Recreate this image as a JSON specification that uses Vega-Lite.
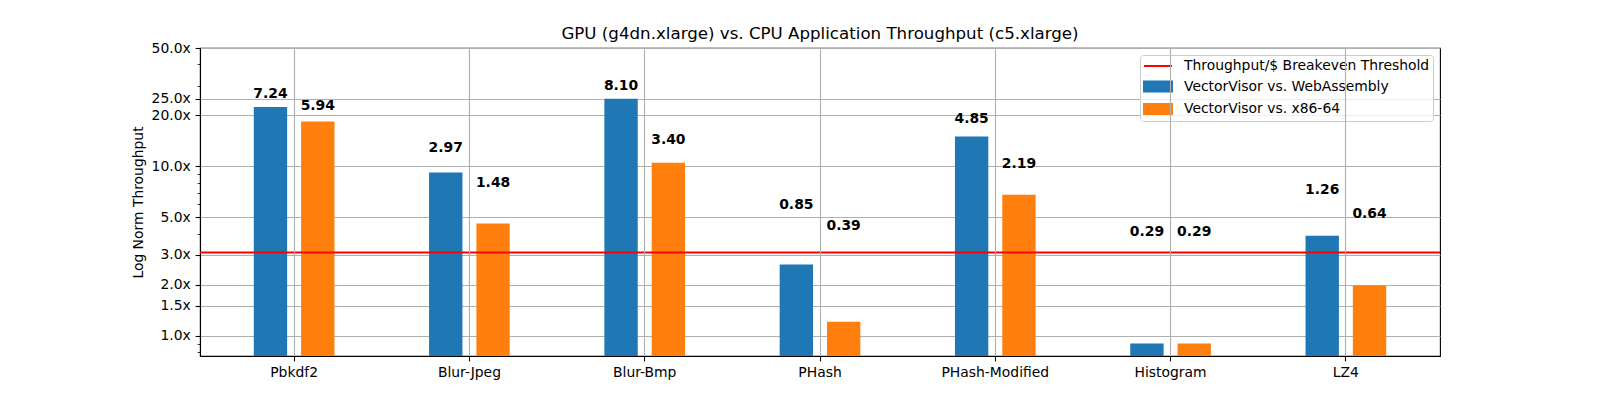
{
  "$schema": "https://vega.github.io/schema/vega-lite/v6.json",
  "width": 1240,
  "height": 308,
  "autosize": {"type": "none"},
  "padding": {"left": 200, "top": 48, "right": 160, "bottom": 44},
  "config": {
    "font": "DejaVu Sans",
    "view": {"stroke": "black", "strokeWidth": 1.1},
    "axis": {
      "labelFont": "DejaVu Sans", "titleFont": "DejaVu Sans",
      "labelColor": "black", "titleColor": "black",
      "domainColor": "black", "tickColor": "black",
      "labelFontSize": 13.9, "titleFontSize": 13.9, "titleFontWeight": "normal",
      "gridColor": "#b0b0b0", "gridWidth": 1.1,
      "domainWidth": 1.1, "tickWidth": 1.1, "tickSize": 4.9, "labelPadding": 4.9
    }
  },
  "title": {
    "text": "GPU (g4dn.xlarge) vs. CPU Application Throughput (c5.xlarge)",
    "fontSize": 16.67, "fontWeight": "normal", "font": "DejaVu Sans", "color": "black",
    "anchor": "middle", "frame": "group", "offset": -2
  },
  "datasets": {
    "bars": [
      {"app": "Pbkdf2", "series": "VectorVisor vs. WebAssembly", "ratio": 7.24, "bar": 22.4},
      {"app": "Pbkdf2", "series": "VectorVisor vs. x86-64", "ratio": 5.94, "bar": 18.4},
      {"app": "Blur-Jpeg", "series": "VectorVisor vs. WebAssembly", "ratio": 2.97, "bar": 9.2},
      {"app": "Blur-Jpeg", "series": "VectorVisor vs. x86-64", "ratio": 1.48, "bar": 4.6},
      {"app": "Blur-Bmp", "series": "VectorVisor vs. WebAssembly", "ratio": 8.10, "bar": 25.1},
      {"app": "Blur-Bmp", "series": "VectorVisor vs. x86-64", "ratio": 3.40, "bar": 10.5},
      {"app": "PHash", "series": "VectorVisor vs. WebAssembly", "ratio": 0.85, "bar": 2.64},
      {"app": "PHash", "series": "VectorVisor vs. x86-64", "ratio": 0.39, "bar": 1.21},
      {"app": "PHash-Modified", "series": "VectorVisor vs. WebAssembly", "ratio": 4.85, "bar": 15.0},
      {"app": "PHash-Modified", "series": "VectorVisor vs. x86-64", "ratio": 2.19, "bar": 6.8},
      {"app": "Histogram", "series": "VectorVisor vs. WebAssembly", "ratio": 0.29, "bar": 0.9},
      {"app": "Histogram", "series": "VectorVisor vs. x86-64", "ratio": 0.29, "bar": 0.9},
      {"app": "LZ4", "series": "VectorVisor vs. WebAssembly", "ratio": 1.26, "bar": 3.9},
      {"app": "LZ4", "series": "VectorVisor vs. x86-64", "ratio": 0.64, "bar": 1.98}
    ],
    "threshold": [
      {"name": "Throughput/$ Breakeven Threshold", "value": 3.1}
    ]
  },
  "layer": [
    {
      "data": {"name": "bars"},
      "mark": {"type": "bar"},
      "encoding": {
        "x": {
          "field": "app", "type": "nominal", "sort": null,
          "scale": {"paddingInner": 0, "paddingOuter": 0.037},
          "axis": {"title": null, "labelAngle": 0, "grid": true, "bandPosition": 0.5, "zindex": 1}
        },
        "xOffset": {
          "field": "series", "type": "nominal",
          "scale": {"paddingInner": 0.295, "paddingOuter": 1.14}
        },
        "y": {
          "field": "bar", "type": "quantitative", "stack": null,
          "scale": {"type": "log", "domain": [0.76, 50], "nice": false},
          "axis": {
            "title": "Log Norm Throughput",
            "titlePadding": 6,
            "values": [0.8, 0.9, 1, 1.5, 2, 3, 4, 5, 6, 7, 8, 9, 10, 20, 25, 30, 40, 50],
            "labelExpr": "indexof([1,1.5,2,3,5,10,20,25,50], datum.value) >= 0 ? format(datum.value, '.1f') + 'x' : ''",
            "labelOverlap": false,
            "grid": true,
            "zindex": 0,
            "tickSize": {"condition": {"test": "indexof([1,1.5,2,3,5,10,20,25,50], datum.value) < 0", "value": 2.8}, "value": 4.9},
            "tickWidth": {"condition": {"test": "indexof([1,1.5,2,3,5,10,20,25,50], datum.value) < 0", "value": 0.8}, "value": 1.1},
            "gridOpacity": {"condition": {"test": "indexof([1,1.5,2,3,5,10,20,25,50], datum.value) < 0", "value": 0}, "value": 1}
          }
        },
        "color": {
          "field": "series", "type": "nominal",
          "scale": {
            "domain": ["Throughput/$ Breakeven Threshold", "VectorVisor vs. WebAssembly", "VectorVisor vs. x86-64"],
            "range": ["#ff0000", "#1f77b4", "#ff7f0e"]
          },
          "legend": {
            "title": null,
            "orient": "top-right",
            "offset": 7,
            "padding": 3,
            "fillColor": "rgba(255,255,255,0.8)",
            "strokeColor": "#cccccc",
            "cornerRadius": 3,
            "labelFont": "DejaVu Sans",
            "labelFontSize": 13.9,
            "labelColor": "black",
            "labelLimit": 400,
            "symbolType": "M-2,-0.7H2V0.7H-2Z",
            "symbolSize": 196,
            "symbolStrokeWidth": 0,
            "symbolOffset": 7,
            "labelOffset": 18,
            "rowPadding": 4.5,
            "encode": {
              "symbols": {
                "update": {
                  "shape": {"signal": "datum.value === 'Throughput/$ Breakeven Threshold' ? 'M-2,0H2' : 'M-2,-0.7H2V0.7H-2Z'"},
                  "stroke": {"signal": "datum.value === 'Throughput/$ Breakeven Threshold' ? '#ff0000' : 'transparent'"},
                  "strokeWidth": {"value": 2},
                  "fill": {"scale": "color", "field": "value"},
                  "opacity": {"value": 1}
                }
              }
            }
          }
        }
      }
    },
    {
      "data": {"name": "threshold"},
      "mark": {"type": "rule", "strokeWidth": 2},
      "encoding": {
        "y": {"field": "value", "type": "quantitative"},
        "color": {"field": "name", "type": "nominal"}
      }
    },
    {
      "data": {"name": "bars"},
      "transform": [{"calculate": "datum.bar + 3", "as": "labelPos"}],
      "mark": {"type": "text", "fontWeight": "bold", "fontSize": 13.9, "font": "DejaVu Sans", "baseline": "alphabetic", "color": "black"},
      "encoding": {
        "x": {"field": "app", "type": "nominal", "sort": null},
        "xOffset": {"field": "series", "type": "nominal"},
        "y": {"field": "labelPos", "type": "quantitative"},
        "text": {"field": "ratio", "type": "quantitative", "format": ".2f"}
      }
    }
  ]
}
